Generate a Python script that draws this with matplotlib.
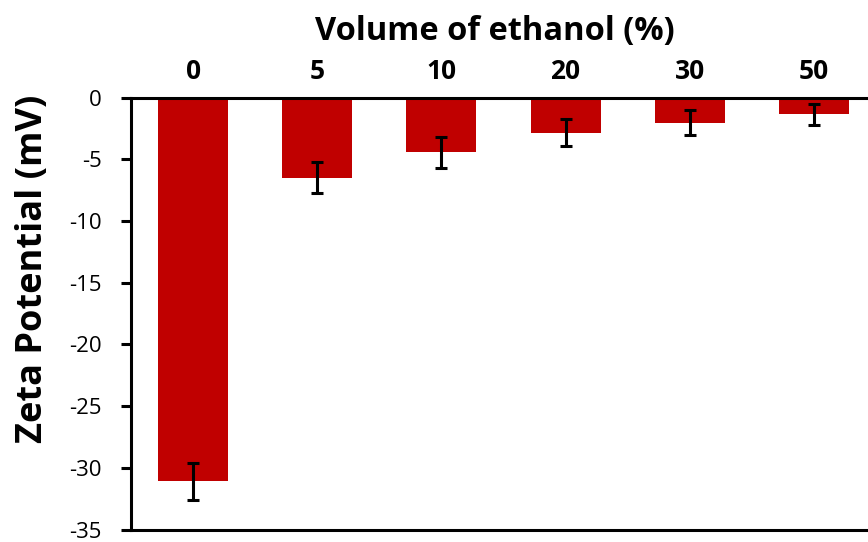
import matplotlib
matplotlib.use("Agg")
import matplotlib.pyplot as plt
import numpy as np

# Ethanol content (% v/v) and measured zeta potential with standard deviation
ethanol_pct = ["0", "5", "10", "20", "30", "50"]
zeta_mv = [-31.1, -6.5, -4.45, -2.85, -2.05, -1.35]
zeta_err = [1.5, 1.25, 1.25, 1.1, 1.0, 0.85]

plt.rcParams["font.family"] = ["Open Sans", "DejaVu Sans"]
plt.rcParams["axes.unicode_minus"] = False

W, H = 868, 542
fig = plt.figure(figsize=(W / 100, H / 100), dpi=100)
ax = fig.add_axes([131 / W, (H - 529.5) / H, 745 / W, (529.5 - 97.5) / H])

x = np.arange(len(ethanol_pct))
ax.bar(x, zeta_mv, width=0.565, color="#C00000", zorder=2)
ax.errorbar(x, zeta_mv, yerr=zeta_err, fmt="none", ecolor="black",
            elinewidth=2.2, capsize=4, capthick=2.2, zorder=3)

ax.set_xlim(-0.5, 5.5)
ax.set_ylim(-35, 0)
ax.set_yticks(np.arange(-35, 1, 5))
ax.tick_params(axis="y", direction="out", length=7, width=2.2, pad=14,
               labelsize=16)

ax.xaxis.tick_top()
ax.xaxis.set_label_position("top")
ax.set_xticks(x)
ax.set_xticklabels(ethanol_pct, fontweight="bold", fontsize=19)
ax.tick_params(axis="x", length=0, pad=9)
ax.set_xlabel("Volume of ethanol (%)", fontsize=23.5, fontweight="bold",
              labelpad=13)
ax.xaxis.label.set_x(0.488)
ax.set_ylabel("Zeta Potential (mV)", fontsize=26, fontweight="bold")
ax.yaxis.set_label_coords(-0.108, 0.603)

for side in ("top", "left", "bottom"):
    ax.spines[side].set_linewidth(2.2)
ax.spines["right"].set_visible(False)

fig.savefig("out.png", dpi=100)
